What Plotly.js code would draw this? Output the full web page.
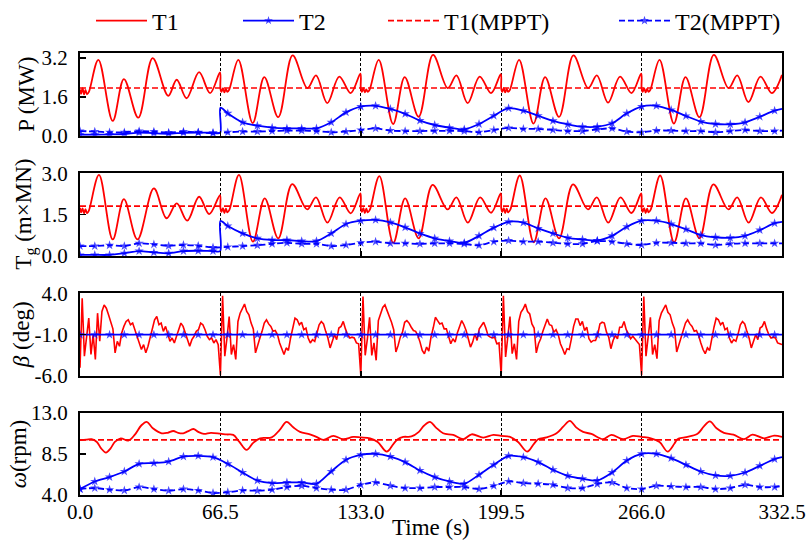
<!DOCTYPE html>
<html><head><meta charset="utf-8">
<script src="https://cdn.plot.ly/plotly-3.0.1.min.js"></script>
<style>html,body{margin:0;padding:0;background:#fff}#chart{width:807px;height:541px}</style>
</head><body><div id="chart"></div>
<script>
// ---------------- data ----------------
const xTickVals = [0, 66.5, 133, 199.5, 266, 332.5];
const xTickText = ['0.0', '66.5', '133.0', '199.5', '266.0', '332.5'];
const seriesNames = ['T1', 'T2', 'T1(MPPT)', 'T2(MPPT)'];
const xTitle = 'Time (s)';
const yTitles = ['P (MW)', 'T<sub>g</sub> (m×MN)', '<i>β</i> (deg)', '<i>ω</i>(rpm)'];

// time grid of the marked (blue) series
const tMark = [0,7,14,21,28,35,42,49,56,63,70,77,84,91,98,105,112,119,126,133,140,147,154,161,168,175,182,189,196,203,210,217,224,231,238,245,252,259,266,273,280,287,294,301,308,315,322,329,332.5];
// same grid with the step at 66.5 s
const tJump = [0,7,14,21,28,35,42,49,56,63,66.4,66.5,70,77,84,91,98,105,112,119,126,133,140,147,154,161,168,175,182,189,196,203,210,217,224,231,238,245,252,259,266,273,280,287,294,301,308,315,322,329,332.5];

// ---- Panel 1: P (MW)
const pT1_t = [0,0.5,1.2,1.9,2.6,3.3,4.2,8.7,15.5,20.8,27.6,34.4,41.8,45.8,50.5,56.4,61.6,66.3,
  66.5,67.0,67.7,68.4,69.1,69.8,70.7,75.0,81.8,87.3,93.9,100.7,107.7,111.8,117.1,122.8,128.2,132.8,
  133.0,133.5,134.2,134.9,135.6,136.3,137.2,141.5,148.3,153.8,160.4,167.2,174.2,178.3,183.6,189.3,194.7,199.3,
  199.5,200.0,200.7,201.4,202.1,202.8,203.7,208.0,214.8,220.3,226.9,233.7,240.7,244.8,250.1,255.8,261.2,265.8,
  266.0,266.5,267.2,267.9,268.6,269.3,270.2,274.5,281.3,286.8,293.4,300.2,307.2,311.3,316.6,322.3,327.7,332.5];
const pT1 = [1.9,1.72,1.95,1.7,1.88,1.7,1.8,3.12,0.61,2.33,0.74,3.19,1.64,2.30,1.54,2.61,1.75,2.6,
  1.95,1.8,1.95,1.78,1.92,1.8,1.9,3.12,0.52,2.41,0.76,3.3,1.96,2.48,1.34,2.43,1.75,2.55,
  1.95,1.8,1.96,1.78,1.9,1.8,1.9,3.12,0.48,2.41,0.78,3.32,1.96,2.48,1.34,2.43,1.75,2.53,
  1.95,1.8,1.95,1.78,1.92,1.8,1.9,3.12,0.5,2.41,0.77,3.3,1.96,2.48,1.36,2.43,1.75,2.55,
  1.95,1.8,1.95,1.78,1.92,1.8,1.9,3.12,0.5,2.41,0.76,3.32,1.96,2.48,1.38,2.43,1.75,2.5];
const pT2 = [0.04,0.04,0.05,0.07,0.13,0.1,0.08,0.12,0.13,0.12,0.12,1.15,0.92,0.55,0.41,0.33,0.30,0.30,0.30,0.55,0.96,1.2,1.23,1.1,0.9,0.62,0.44,0.33,0.26,0.48,0.82,1.13,1.03,0.82,0.61,0.47,0.37,0.37,0.51,0.92,1.2,1.23,1.06,0.81,0.58,0.48,0.47,0.55,0.78,1.03,1.1];
const pT1mppt_t = [0, 332.5];
const pT1mppt = [1.96, 1.96];
const pT2mppt = [0.19,0.17,0.14,0.14,0.19,0.17,0.13,0.17,0.14,0.10,0.14,0.17,0.17,0.19,0.21,0.21,0.19,0.14,0.17,0.235,0.30,0.21,0.19,0.19,0.2,0.2,0.19,0.14,0.235,0.32,0.28,0.28,0.235,0.19,0.19,0.26,0.30,0.17,0.14,0.21,0.21,0.19,0.19,0.14,0.19,0.235,0.19,0.19,0.21];

// ---- Panel 2: Tg (m x MN)
const tgT1_t = [0,0.5,1.2,1.9,2.6,3.3,4.2,9.0,15.5,20.8,27.2,35.0,41.0,45.8,50.8,56.4,61.2,66.3,
  66.5,67.0,67.7,68.4,69.1,69.8,70.8,75.3,81.9,87.5,93.9,100.5,107.6,111.8,117.2,123.0,128.2,132.8,
  133.0,133.5,134.2,134.9,135.6,136.3,137.3,141.8,148.4,154.0,160.4,167.0,174.1,178.3,183.7,189.5,194.7,199.3,
  199.5,200.0,200.7,201.4,202.1,202.8,203.8,208.3,214.9,220.5,226.9,233.5,240.6,244.8,250.2,256.0,261.2,265.8,
  266.0,266.5,267.2,267.9,268.6,269.3,270.3,274.8,281.4,287.0,293.4,300.0,307.1,311.3,316.7,322.5,327.7,332.5];
const tgT1 = [1.75,1.58,1.73,1.55,1.7,1.55,1.65,2.94,0.6,2.06,0.6,2.45,1.37,1.91,1.28,2.15,1.52,2.21,
  1.75,1.6,1.74,1.56,1.72,1.58,1.68,2.94,0.52,2.09,0.64,2.61,1.69,2.13,1.21,2.13,1.55,2.27,
  1.75,1.6,1.74,1.56,1.72,1.58,1.68,2.9,0.48,2.09,0.64,2.58,1.69,2.13,1.21,2.13,1.57,2.27,
  1.75,1.6,1.74,1.56,1.72,1.58,1.68,2.92,0.5,2.09,0.64,2.6,1.69,2.13,1.21,2.13,1.56,2.27,
  1.75,1.6,1.74,1.56,1.72,1.58,1.68,2.92,0.5,2.09,0.64,2.6,1.69,2.13,1.21,2.13,1.56,2.22];
const tgT2 = [0.04,0.04,0.04,0.1,0.18,0.13,0.1,0.18,0.19,0.18,0.18,1.27,1.09,0.82,0.64,0.58,0.58,0.54,0.54,0.82,1.16,1.28,1.31,1.22,1.04,0.82,0.64,0.54,0.48,0.73,1.03,1.24,1.21,1.0,0.82,0.66,0.6,0.56,0.73,1.06,1.28,1.28,1.16,0.97,0.76,0.68,0.66,0.73,0.94,1.19,1.24];
const tgT1mppt_t = [0, 332.5];
const tgT1mppt = [1.81, 1.81];
const tgT2mppt = [0.36,0.36,0.39,0.36,0.46,0.42,0.37,0.40,0.37,0.31,0.33,0.36,0.39,0.44,0.48,0.44,0.44,0.36,0.40,0.48,0.52,0.46,0.46,0.44,0.46,0.46,0.44,0.39,0.52,0.56,0.52,0.52,0.48,0.44,0.44,0.54,0.52,0.44,0.40,0.48,0.48,0.46,0.46,0.40,0.44,0.46,0.46,0.46,0.46];

// ---- Panel 3: beta (deg), T1 sampled every 66.5/64 s starting at 0
const betaT1 = [
  -5.0,3.4,-3.6,-1.2,1.0,-3.4,-1.0,-4.0, 1.6,-1.8,1.8,2.6,2.2,1.4,0.4,-0.3,
  -3.2,-1.8,-2.4,-0.8,0.0,0.6,0.8,0.2, 0.4,-0.4,-1.2,-1.8,-2.8,-2.2,-3.2,-2.4,
  -1.4,-0.4,0.8,1.2,0.2,0.4,-0.6,0.0, -1.0,-1.8,-1.4,-2.0,-1.2,-0.4,0.4,0.0,
  -0.8,-1.6,-2.4,-1.6,-1.2,-0.6,-0.4,0.4, 0.2,-0.4,-1.2,-1.6,-1.4,-2.0,-1.6,-2.2,
  -5.9,3.7,-3.6,-1.4,1.2,-3.4,-2.2,-4.0, 0.6,1.6,2.2,2.7,1.8,1.4,0.4,-0.3,
  -3.2,-2.2,-1.4,-0.6,0.4,0.8,0.3,0.0, -0.6,-0.5,-1.0,-2.0,-2.8,-3.4,-2.6,-2.9,
  -1.4,-0.1,1.0,0.8,0.2,0.5,-0.4,-0.2, -1.4,-2.0,-1.6,-1.8,-0.9,0.2,0.6,0.3,
  -0.6,-1.4,-2.6,-1.8,-1.0,-1.6,-0.2,0.0, 0.6,-0.3,-1.0,-1.4,-1.3,-1.4,-2.0,-2.1,
  -5.9,3.6,-3.5,-1.5,1.1,-3.5,-2.0,-4.1, 0.7,1.5,2.3,2.6,1.9,1.3,0.5,-0.4,
  -3.1,-2.3,-1.3,-0.7,0.5,0.7,0.4,-0.1, -0.5,-0.6,-1.1,-1.9,-2.9,-3.3,-2.5,-3.0,
  -1.3,-0.2,1.1,0.7,0.3,0.4,-0.3,-0.3, -1.3,-2.1,-1.5,-1.9,-0.8,0.1,0.7,0.2,
  -0.5,-1.5,-2.5,-1.9,-0.9,-1.7,-0.3,0.1, 0.5,-0.2,-1.1,-1.3,-1.4,-1.3,-2.1,-2.0,
  -5.9,3.7,-3.7,-1.3,1.2,-3.3,-2.1,-4.0, 0.6,1.7,2.1,2.7,1.8,1.5,0.3,-0.2,
  -3.2,-2.1,-1.5,-0.6,0.3,0.9,0.2,0.1, -0.7,-0.4,-1.0,-2.1,-2.7,-3.4,-2.7,-2.8,
  -1.5,0.0,0.9,0.9,0.1,0.6,-0.5,-0.1, -1.5,-1.9,-1.7,-1.7,-1.0,0.3,0.5,0.4,
  -0.7,-1.3,-2.7,-1.7,-1.1,-1.5,-0.1,-0.1, 0.6,-0.4,-0.9,-1.5,-1.2,-1.5,-1.9,-2.2,
  -5.9,3.6,-3.6,-1.4,1.1,-3.4,-2.2,-3.9, 0.7,1.6,2.2,2.6,1.7,1.4,0.4,-0.3,
  -3.1,-2.2,-1.4,-0.5,0.4,0.8,0.3,0.0, -0.6,-0.5,-1.1,-2.0,-2.8,-3.3,-2.6,-2.9,
  -1.4,-0.1,1.0,0.8,0.2,0.5,-0.4,-0.2, -1.4,-2.0,-1.6,-1.8,-0.9,0.2,0.6,0.3,
  -0.6,-1.4,-2.6,-1.8,-1.0,-1.6,-0.2,0.0, 0.6,-0.3,-1.0,-1.4,-1.3,-1.4,-2.0,-2.1,
  -2.2];
const betaStart = 0;
const betaStep = 66.5 / 64;
const betaT2 = [-1,-1,-1,-1,-1,-1,-1,-1,-1,-1,-1,-1,-1,-1,-1,-1,-1,-1,-1,-1,-1,-1,-1,-1,-1,-1,-1,-1,-1,-1,-1,-1,-1,-1,-1,-1,-1,-1,-1,-1,-1,-1,-1,-1,-1,-1,-1,-1,-1];

// ---- Panel 4: omega (rpm)
const wT1_t = [0,3,5.5,8,10,12.3,14.5,16.5,19.3,22.9,26,29,31.6,34.5,38.7,41.5,44.2,46.5,48.9,51,53.7,56,58.7,62,
  66.5,69.5,72.6,75.5,78.9,82,85.3,90.8,94.5,97.9,101,104.2,108.9,112,115.2,120,124.6,129.4,
  133.0,137.4,141,145.3,148.5,150.5,153.1,157,160.5,163,165.8,168.5,172,176.8,181.6,185.5,191,195.8,
  199.5,203.7,207.5,211.8,215,217,221,225.7,229,232,235,238.3,242.2,247.7,251.7,257.2,261.9,
  266,270.4,274.5,278.3,281.5,283,286.5,292.5,295.5,298.3,301.5,305,309.5,314.5,318.5,324,328.8,332.5];
const wT1 = [10.0,10.05,10.1,9.8,9.1,8.64,9.1,9.8,10.2,9.95,10.6,11.6,12.0,11.3,10.75,10.8,11.0,10.8,10.75,10.95,11.22,10.9,10.68,10.8,
  10.7,10.62,10.57,9.8,8.93,9.7,10.2,10.3,11.1,12.0,11.4,10.9,10.64,10.35,10.03,10.46,10.1,10.35,
  10.3,10.2,9.8,8.75,9.6,10.1,10.35,10.4,10.9,11.6,12.0,11.4,10.75,10.57,10.1,10.64,10.28,10.57,
  10.46,10.35,9.8,8.75,9.6,10.1,10.3,10.75,11.5,12.1,11.4,10.9,10.68,10.1,10.57,10.1,10.46,
  10.35,10.2,9.8,8.75,9.6,10.1,10.3,10.7,11.5,12.05,11.3,10.8,10.6,10.1,10.6,10.2,10.5,10.35];
const wT2 = [4.65,5.48,5.96,6.57,7.41,7.49,7.66,8.2,8.28,8.14,7.41,6.46,5.59,5.3,5.37,5.37,5.23,6.57,7.85,8.39,8.5,8.2,7.6,6.68,5.96,5.48,5.23,6.21,7.3,8.28,8.14,7.6,6.76,6.1,5.78,5.59,6.46,7.77,8.5,8.5,8.03,7.3,6.57,6.14,6.1,6.46,7.19,7.92,8.14];
const wT1mppt_t = [0, 332.5];
const wT1mppt = [10.03, 10.03];
const wT2mppt = [4.65,4.76,4.58,4.5,4.87,4.65,4.47,4.65,4.5,4.22,4.3,4.5,4.47,4.58,4.87,5.01,4.76,4.58,4.58,5.12,5.37,5.01,4.76,4.76,4.87,4.87,4.87,4.65,5.01,5.48,5.3,5.23,5.12,4.76,4.76,5.2,5.37,4.76,4.65,5.01,4.94,4.87,4.87,4.65,4.76,5.12,4.87,4.87,5.01];

// ---------------- styling ----------------
const FONT = 'Liberation Serif, Times New Roman, serif';
const RED = '#ff0000', BLUE = '#0000ff';
const DASH = '6px,3px';
const MARK_EVERY = 7;
const markSizes = t => t.map(v => (Number.isInteger(v / MARK_EVERY) ? 7 : 0));

function redLine(x, y, xa, ya, show) {
  return {x, y, xaxis: xa, yaxis: ya, type: 'scatter', mode: 'lines', name: seriesNames[0],
    legend: 'legend', legendgroup: 'T1', showlegend: show,
    line: {color: RED, width: 1.8, shape: 'spline', smoothing: 1}};
}
function blueLine(x, y, xa, ya, show, dashed) {
  return {x, y, xaxis: xa, yaxis: ya, type: 'scatter', mode: 'lines+markers',
    name: dashed ? seriesNames[3] : seriesNames[1],
    legend: dashed ? 'legend4' : 'legend2', legendgroup: dashed ? 'T2M' : 'T2', showlegend: show,
    line: {color: BLUE, width: 1.8, shape: 'spline', smoothing: 0.8, dash: dashed ? DASH : 'solid'},
    marker: {symbol: 'star', color: BLUE, size: markSizes(x), line: {width: 0}}};
}
function redMppt(x, y, xa, ya, show) {
  return {x, y, xaxis: xa, yaxis: ya, type: 'scatter', mode: 'lines', name: seriesNames[2],
    legend: 'legend3', legendgroup: 'T1M', showlegend: show,
    line: {color: RED, width: 1.6, dash: DASH}};
}

const traces = [
  redLine(pT1_t, pT1, 'x', 'y', true),
  blueLine(tJump, pT2, 'x', 'y', true, false),
  redMppt(pT1mppt_t, pT1mppt, 'x', 'y', true),
  blueLine(tMark, pT2mppt, 'x', 'y', true, true),

  redLine(tgT1_t, tgT1, 'x2', 'y2', false),
  blueLine(tJump, tgT2, 'x2', 'y2', false, false),
  redMppt(tgT1mppt_t, tgT1mppt, 'x2', 'y2', false),
  blueLine(tMark, tgT2mppt, 'x2', 'y2', false, true),

  {y: betaT1, x0: betaStart, dx: betaStep, xaxis: 'x3', yaxis: 'y3', type: 'scatter', mode: 'lines',
   name: seriesNames[0], legendgroup: 'T1', showlegend: false, line: {color: RED, width: 1.6}},
  blueLine(tMark, betaT2, 'x3', 'y3', false, false),

  redLine(wT1_t, wT1, 'x4', 'y4', false),
  blueLine(tMark, wT2, 'x4', 'y4', false, false),
  redMppt(wT1mppt_t, wT1mppt, 'x4', 'y4', false),
  blueLine(tMark, wT2mppt, 'x4', 'y4', false, true)
];

function xAxis(anchor, labels) {
  const ax = {anchor, range: [0, 332.5], tickmode: 'array', tickvals: xTickVals, ticktext: xTickText,
    showticklabels: labels, ticks: 'inside', ticklen: 5, tickwidth: 1.5, tickcolor: '#000',
    showline: true, mirror: true, linecolor: '#000', linewidth: 2,
    showgrid: true, gridcolor: '#000', gridwidth: 1, griddash: '3px,2px', zeroline: false,
    tickfont: {family: FONT, size: 21, color: '#000'}, ticklabelstandoff: -3};
  if (anchor !== 'y4') ax.matches = 'x4';
  return ax;
}
function yAxis(anchor, domain, range, vals, text) {
  return {anchor, domain, range, tickmode: 'array', tickvals: vals, ticktext: text,
    ticks: 'inside', ticklen: 6, tickwidth: 1.5, tickcolor: '#000',
    showline: true, mirror: true, linecolor: '#000', linewidth: 2,
    showgrid: false, zeroline: false, ticklabelstandoff: 6,
    tickfont: {family: FONT, size: 21, color: '#000'}};
}
function legendBox(xpx) {
  return {orientation: 'h', xref: 'container', yref: 'container',
    x: xpx / 807, y: 1 - 21 / 541, xanchor: 'left', yanchor: 'middle',
    bgcolor: 'rgba(0,0,0,0)', borderwidth: 0, itemwidth: 51,
    font: {family: FONT, size: 24, color: '#000'}};
}
// axis titles placed in pixel terms of the 807x541 canvas
const M = {l: 80, r: 25, t: 53, b: 46};
const PW = 807 - M.l - M.r, PH = 541 - M.t - M.b;
const domains = [[0.8129, 1.0], [0.5407, 0.7278], [0.2692, 0.4563], [0, 0.1862]];
const yTitleX = [26.5, 26, 21.5, 18.5];
const titleFont = {family: FONT, size: 23, color: '#000'};
const annotations = yTitles.map((t, i) => ({
  text: t, textangle: -90, showarrow: false, font: titleFont,
  xref: 'paper', yref: 'paper', x: (yTitleX[i] - M.l) / PW, y: (domains[i][0] + domains[i][1]) / 2,
  xanchor: 'center', yanchor: 'middle'}));
annotations.push({text: xTitle, showarrow: false, font: titleFont, xref: 'paper', yref: 'paper',
  x: 0.5, y: (541 - M.b - 527) / PH, xanchor: 'center', yanchor: 'middle'});

const layout = {
  width: 807, height: 541, paper_bgcolor: '#fff', plot_bgcolor: '#fff',
  margin: M,
  font: {family: FONT, color: '#000'},
  xaxis: xAxis('y', false), xaxis2: xAxis('y2', false), xaxis3: xAxis('y3', false), xaxis4: xAxis('y4', true),
  yaxis: yAxis('x', domains[0], [0, 3.4], [0, 1.6, 3.2], ['0.0', '1.6', '3.2']),
  yaxis2: yAxis('x2', domains[1], [0, 3.0], [0, 1.5, 3.0], ['0.0', '1.5', '3.0']),
  yaxis3: yAxis('x3', domains[2], [-6, 4], [-6, -1, 4], ['-6.0', '-1.0', '4.0']),
  yaxis4: yAxis('x4', domains[3], [4, 13], [4, 8.5, 13], ['4.0', '8.5', '13.0']),
  legend: legendBox(91), legend2: legendBox(238), legend3: legendBox(383), legend4: legendBox(614),
  annotations, showlegend: true
};

Plotly.newPlot('chart', traces, layout, {displayModeBar: false, staticPlot: true});
</script></body></html>
